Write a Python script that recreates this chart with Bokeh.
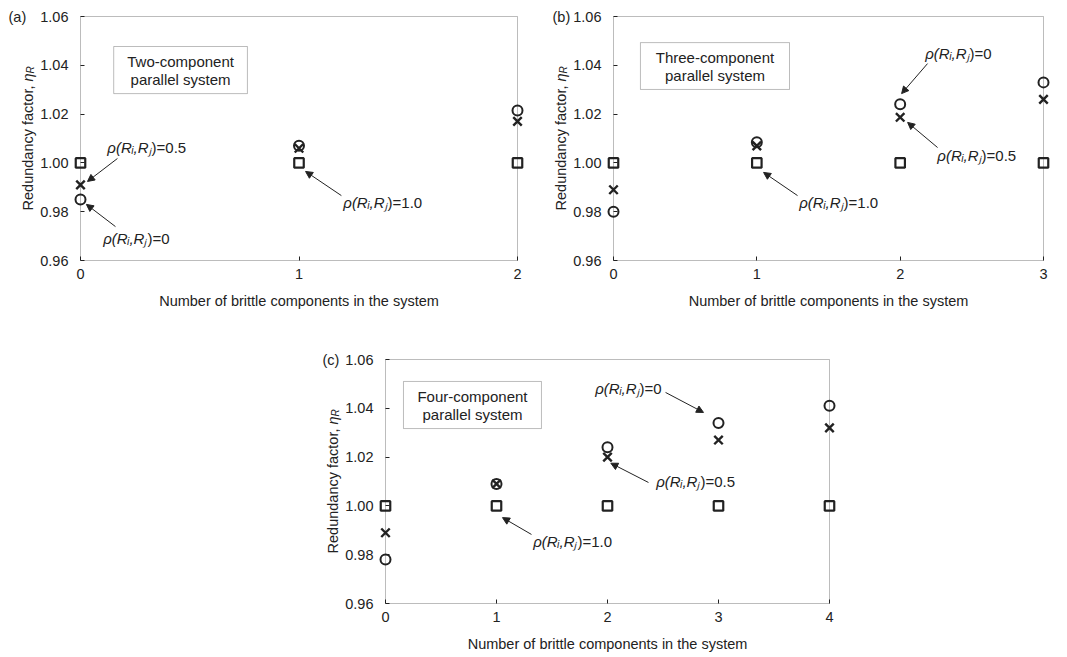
from bokeh.plotting import figure
from bokeh.models import (Range1d, FixedTicker, NumeralTickFormatter, BoxAnnotation,
                          Label, Arrow, NormalHead, Spacer)
from bokeh.layouts import column, row
from bokeh.embed import file_html
from bokeh.resources import INLINE

# ---------------- data ----------------
Y_TICKS = [0.96, 0.98, 1.00, 1.02, 1.04, 1.06]
Y_MIN, Y_MAX = 0.96, 1.06

brittle_a = [0, 1, 2]
eta_rho0_a = [0.985, 1.007, 1.0215]
eta_rho05_a = [0.991, 1.006, 1.017]
eta_rho1_a = [1.000, 1.000, 1.000]

brittle_b = [0, 1, 2, 3]
eta_rho0_b = [0.980, 1.0085, 1.024, 1.033]
eta_rho05_b = [0.989, 1.007, 1.0187, 1.026]
eta_rho1_b = [1.000, 1.000, 1.000, 1.000]

brittle_c = [0, 1, 2, 3, 4]
eta_rho0_c = [0.978, 1.009, 1.024, 1.034, 1.041]
eta_rho05_c = [0.989, 1.009, 1.020, 1.027, 1.032]
eta_rho1_c = [1.000, 1.000, 1.000, 1.000, 1.000]

X_TITLE = "Number of brittle components in the system"
RHO_ITAL = "\u03c1(R\u1d62,R\u2c7c"

FONT = "Liberation Sans"
INK = "#222222"
FS = "14.5px"


def make_panel(tag, tag_dx, x, c0, c05, c1, box_left, box_w, box_top, box_h, fig_w, fig_h,
               box_lines, box_xy, notes):
    xmax = x[-1]
    sx = box_w / xmax
    sy = box_h / (Y_MAX - Y_MIN)
    p = figure(width=fig_w, height=fig_h, output_backend="svg", toolbar_location=None,
               x_range=Range1d(-box_left / sx, (fig_w - box_left) / sx),
               y_range=Range1d(Y_MIN - (fig_h - box_top - box_h) / sy, Y_MAX + box_top / sy),
               min_border=0)
    p.outline_line_color = None
    p.grid.visible = False
    p.background_fill_color = "white"
    p.border_fill_color = "white"

    xa = p.xaxis[0]
    ya = p.yaxis[0]
    xa.ticker = FixedTicker(ticks=x)
    ya.ticker = FixedTicker(ticks=Y_TICKS)
    ya.formatter = NumeralTickFormatter(format="0.00")
    xa.fixed_location = Y_MIN
    ya.fixed_location = 0
    for ax in (xa, ya):
        ax.axis_line_color = None
        ax.major_tick_in = 4
        ax.major_tick_out = 0
        ax.major_tick_line_color = INK
        ax.major_tick_line_width = 1
        ax.minor_tick_line_color = None
        ax.major_label_text_font = FONT
        ax.major_label_text_font_size = FS
        ax.major_label_text_color = INK
    xa.major_label_standoff = 8
    ya.major_label_standoff = 12

    # x-axis title, centred on the plotting box
    p.add_layout(Label(x=xmax / 2, y=Y_MIN, y_offset=-40, text=X_TITLE, text_align="center",
                       text_baseline="middle", text_font=FONT, text_font_size=FS,
                       text_color=INK))

    # frame box
    p.add_layout(BoxAnnotation(left=0, right=xmax, bottom=Y_MIN, top=Y_MAX,
                               fill_color=None, line_color=INK, line_width=1))

    # markers
    p.scatter(x, c1, marker="square", size=9.5, fill_color=None, line_color=INK, line_width=2.2)
    p.scatter(x, c05, marker="x", size=12, line_color=INK, line_width=2.4)
    p.scatter(x, c0, marker="circle", size=10, fill_color=None, line_color=INK, line_width=2)

    # text box
    bl, br, bb, bt = box_xy
    p.add_layout(BoxAnnotation(left=bl, right=br, bottom=bb, top=bt,
                               fill_color="white", fill_alpha=1, line_color=INK, line_width=1))
    for i, line in enumerate(box_lines):
        p.add_layout(Label(x=(bl + br) / 2, y=(bb + bt) / 2, y_offset=9 - 18 * i, text=line,
                           text_align="center", text_baseline="middle",
                           text_font=FONT, text_font_size="15px", text_color=INK))

    # annotations with arrows
    for val, tx, ty, ax0, ay0, ax1, ay1 in notes:
        p.add_layout(Label(x=tx, y=ty, x_offset=44, text=RHO_ITAL, text_align="right",
                           text_baseline="middle", text_font=FONT, text_font_size="15px",
                           text_font_style="italic", text_color=INK))
        p.add_layout(Label(x=tx, y=ty, x_offset=44, text=")=" + val, text_align="left",
                           text_baseline="middle", text_font=FONT, text_font_size="15px",
                           text_color=INK))
        p.add_layout(Arrow(end=NormalHead(size=7, fill_color=INK, line_color=INK, line_width=1),
                           x_start=ax0, y_start=ay0, x_end=ax1, y_end=ay1,
                           line_color=INK, line_width=1))

    # panel tag
    p.add_layout(Label(x=0, y=Y_MAX, x_offset=tag_dx, text=tag, text_align="left",
                       text_baseline="middle", text_font=FONT, text_font_size=FS,
                       text_color=INK))

    # y-axis title (rotated, composed)
    ymid = (Y_MIN + Y_MAX) / 2
    p.add_layout(Label(x=0, y=ymid, x_offset=-53, y_offset=57, angle=1.5708,
                       text="Redundancy factor, ", text_align="right", text_baseline="middle",
                       text_font=FONT, text_font_size=FS, text_color=INK))
    p.add_layout(Label(x=0, y=ymid, x_offset=-53, y_offset=57, angle=1.5708,
                       text="\u03b7", text_align="left", text_baseline="middle",
                       text_font=FONT, text_font_size=FS, text_font_style="italic",
                       text_color=INK))
    p.add_layout(Label(x=0, y=ymid, x_offset=-50, y_offset=65, angle=1.5708,
                       text="R", text_align="left", text_baseline="middle",
                       text_font=FONT, text_font_size="10px", text_font_style="italic",
                       text_color=INK))
    return p


notes_a = [
    ("0.5", 0.124, 1.0063, 0.169, 1.0018, 0.032, 0.9924),
    ("0", 0.105, 0.9690, 0.160, 0.9739, 0.027, 0.9830),
    ("1.0", 1.204, 0.9838, 1.194, 0.9866, 1.030, 0.9965),
]
notes_b = [
    ("0", 2.177, 1.0448, 2.191, 1.0407, 2.010, 1.0284),
    ("0.5", 2.261, 1.0030, 2.261, 1.0063, 2.052, 1.0166),
    ("1.0", 1.298, 0.9838, 1.284, 0.9866, 1.047, 0.9961),
]
notes_c = [
    ("0", 1.892, 1.0481, 2.523, 1.0465, 2.865, 1.0383),
    ("0.5", 2.441, 1.0100, 2.369, 1.0096, 2.030, 1.0175),
    ("1.0", 1.333, 0.9854, 1.315, 0.9883, 1.054, 0.9952),
]

pa = make_panel("(a)", -72, brittle_a, eta_rho0_a, eta_rho05_a, eta_rho1_a,
                80, 437, 16, 244, 530, 310,
                ["Two-component", "parallel system"], (0.152, 0.764, 1.0284, 1.0477), notes_a)
pb = make_panel("(b)", -61, brittle_b, eta_rho0_b, eta_rho05_b, eta_rho1_b,
                83, 430, 16, 244, 537, 310,
                ["Three-component", "parallel system"], (0.188, 1.228, 1.0301, 1.0493), notes_b)
pc = make_panel("(c)", -63, brittle_c, eta_rho0_c, eta_rho05_c, eta_rho1_c,
                85, 444, 49, 244, 559, 347,
                ["Four-component", "parallel system"], (0.162, 1.405, 1.0317, 1.0510), notes_c)

layout = column(row(pa, pb), row(Spacer(width=300, height=347), pc))

open("out.html", "w").write(file_html(layout, INLINE))
